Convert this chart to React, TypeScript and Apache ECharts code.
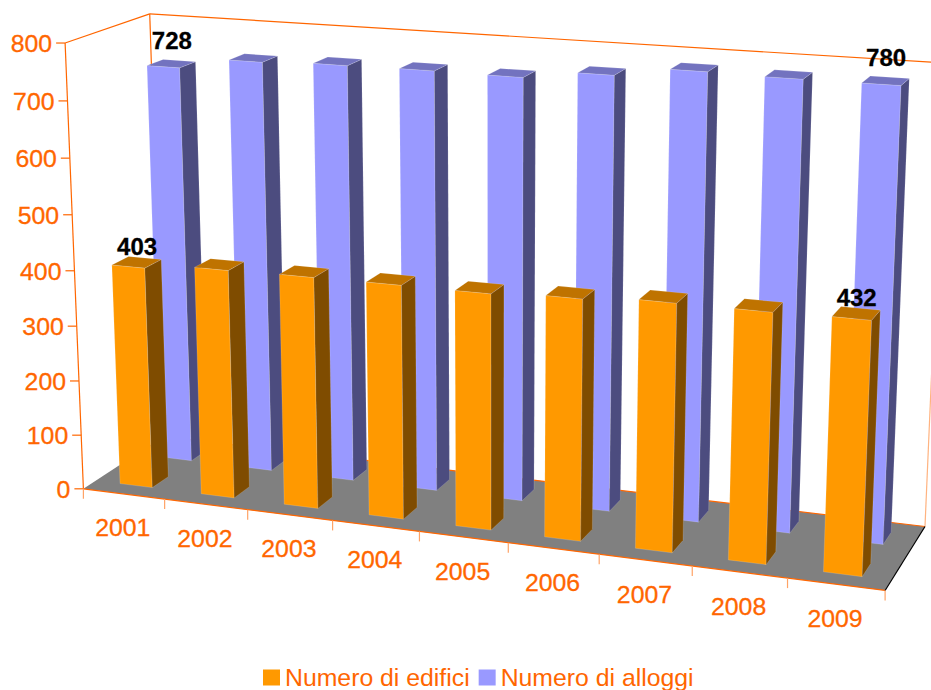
import React, { useEffect, useRef } from "react";
import * as echarts from "echarts";

const categories = ["2001", "2002", "2003", "2004", "2005", "2006", "2007", "2008", "2009"];
const edifici = [403, 413, 415, 416, 416, 422, 430, 430, 432];
const alloggi = [728, 748, 752, 753, 752, 766, 782, 780, 780];
const yTicks = [0, 100, 200, 300, 400, 500, 600, 700, 800];
const labelled = [0, 8];

const FONT = '"Liberation Sans", Arial, sans-serif';
const ORANGE = "#FF6600";
const GRID = { left: 0, top: 0, width: 900, height: 600 };

// camera calibration: box coordinates (u along years, v depth, w height) -> page pixels, then a weight
const CALIB: number[][] = [
  [0, 0, 0, 84, 489.5, 4],
  [0, 0, 1, 65, 43, 4],
  [0, 1, 1, 150, 14, 4],
  [0, 1, 0, 162.5, 434, 1],
  [1, 1, 0, 925, 527, 4],
  [1, 1, 1, 945, 63, 3],
  [1, 0, 0, 885, 590, 4],
  [1 / 9, 0, 0, 164, 499, 1],
  [8 / 9, 0, 0, 788, 578, 1],
  [0, 0, 0.5, 73, 270, 1],
];

function solveCamera(): number[] {
  const rows: number[][] = [];
  const rhs: number[] = [];
  CALIB.forEach(([u, v, w, x, y, k]) => {
    for (let t = 0; t < k; t++) {
      rows.push([u, v, w, 1, 0, 0, 0, 0, -x * u, -x * v, -x * w]);
      rhs.push(x);
      rows.push([0, 0, 0, 0, u, v, w, 1, -y * u, -y * v, -y * w]);
      rhs.push(y);
    }
  });
  const n = 11;
  const m: number[][] = [];
  for (let i = 0; i < n; i++) {
    m.push(new Array(n + 1).fill(0));
    for (let j = 0; j < n; j++) rows.forEach((r) => (m[i][j] += r[i] * r[j]));
    rows.forEach((r, k) => (m[i][n] += r[i] * rhs[k]));
  }
  for (let c = 0; c < n; c++) {
    let p = c;
    for (let r = c + 1; r < n; r++) if (Math.abs(m[r][c]) > Math.abs(m[p][c])) p = r;
    [m[c], m[p]] = [m[p], m[c]];
    for (let r = 0; r < n; r++) {
      if (r === c) continue;
      const f = m[r][c] / m[c][c];
      for (let k = c; k <= n; k++) m[r][k] -= f * m[c][k];
    }
  }
  return m.map((row, i) => row[n] / row[i]);
}
const cam = solveCamera();
function proj(u: number, v: number, w: number): number[] {
  const d = cam[8] * u + cam[9] * v + cam[10] * w + 1;
  return [
    (cam[0] * u + cam[1] * v + cam[2] * w + cam[3]) / d,
    (cam[4] * u + cam[5] * v + cam[6] * w + cam[7]) / d,
  ];
}

// library scale -> box coordinates
function toBox(api: any, i: number, val: number) {
  const c = api.coord([i, val]);
  const band = api.size([1, 0])[0];
  return {
    u: (c[0] - GRID.left) / GRID.width,
    halfBand: (band / GRID.width) / 2,
    w: (GRID.top + GRID.height - c[1]) / GRID.height,
  };
}

function line(a: number[], b: number[], stroke: string, lineWidth = 1.2, opacity = 1) {
  return {
    type: "line",
    shape: { x1: a[0], y1: a[1], x2: b[0], y2: b[1] },
    style: { stroke, lineWidth, opacity },
  };
}

function label(text: string, x: number, y: number, align: string, fill = ORANGE, weight = "normal", size = 24.8) {
  return {
    type: "text",
    style: {
      text,
      x,
      y,
      align,
      verticalAlign: "middle",
      fill,
      stroke: fill,
      lineWidth: 0.3,
      font: `${weight} ${size}px ${FONT}`,
    },
  };
}

function barRenderer(v0: number, v1: number, front: string, side: string, top: string, labelLift: number) {
  return (params: any, api: any) => {
    const i = api.value(0);
    const val = api.value(1);
    const { u, halfBand, w } = toBox(api, i, val);
    const u0 = u - halfBand * 0.4;
    const u1 = u + halfBand * 0.4;
    const edge = "rgba(255,255,255,0.3)";
    const poly = (pts: number[][], fill: string) => ({
      type: "polygon",
      shape: { points: pts },
      style: { fill, stroke: edge, lineWidth: 0.5 },
    });
    const children: any[] = [
      poly([proj(u0, v0, 0), proj(u1, v0, 0), proj(u1, v0, w), proj(u0, v0, w)], front),
      poly([proj(u1, v0, 0), proj(u1, v1, 0), proj(u1, v1, w), proj(u1, v0, w)], side),
      poly([proj(u0, v0, w), proj(u1, v0, w), proj(u1, v1, w), proj(u0, v1, w)], top),
    ];
    if (labelled.includes(i)) {
      const p = proj(u, (v0 + v1) / 2, w);
      children.push(label(String(val), p[0] + 0.5, p[1] - labelLift, "center", "#000", "bold", 24));
    }
    return { type: "group", children };
  };
}

function renderFrame(params: any, api: any) {
  const children: any[] = [];
  const FL = proj(0, 0, 0), BL = proj(0, 1, 0), BR = proj(1, 1, 0), FR = proj(1, 0, 0);
  children.push({ type: "polygon", shape: { points: [FL, BL, BR, FR] }, style: { fill: "#808080" } });
  children.push(line(BL, BR, ORANGE));
  children.push(line(BR, proj(1, 1, 1), "#FFB380"));
  children.push(line(BL, proj(0, 1, 1), ORANGE));
  children.push(line(proj(0, 1, 1), proj(1, 1, 1), ORANGE));
  children.push(line(proj(0, 0, 1), proj(0, 1, 1), ORANGE));
  children.push(line(FL, proj(0, 0, 1), ORANGE));
  children.push(line(FL, FR, ORANGE));
  children.push(line(FR, BR, "#000"));
  yTicks.forEach((t) => {
    const w = toBox(api, 0, t).w;
    const p = proj(0, 0, w);
    children.push(line([p[0] - 9, p[1]], p, ORANGE));
    children.push(label(String(t), p[0] - 13, p[1] + 0.5, "right"));
  });
  categories.forEach((c, i) => {
    const b = toBox(api, i, 0);
    const a = proj(b.u - b.halfBand, 0, 0);
    children.push(line(a, [a[0], a[1] + 10], "#FFA366"));
    const m = proj(b.u, 0, 0);
    children.push(label(c, m[0] - 1, m[1] + 34, "center"));
  });
  const end = proj(1, 0, 0);
  children.push(line(end, [end[0], end[1] + 10], "#FFA366"));
  return { type: "group", children };
}

export default function App() {
  const ref = useRef<HTMLDivElement>(null);
  useEffect(() => {
    const chart = echarts.init(ref.current!, undefined, { renderer: "svg" });
    chart.setOption({
      animation: false,
      backgroundColor: "#fff",
      grid: GRID,
      xAxis: { type: "category", data: categories, show: false },
      yAxis: { type: "value", min: 0, max: 800, interval: 100, show: false },
      legend: {
        data: ["Numero di edifici", "Numero di alloggi"],
        left: 258,
        top: 660,
        icon: "rect",
        itemWidth: 17,
        itemHeight: 16,
        itemGap: 9,
        textStyle: { color: ORANGE, fontSize: 24.8, lineHeight: 20, fontFamily: FONT, padding: [0, 0, 4, 0] },
      },
      series: [
        {
          type: "custom",
          name: "frame",
          data: [[0, 0]],
          encode: { x: 0, y: 1 },
          clip: false,
          silent: true,
          renderItem: renderFrame,
          z: 1,
        },
        {
          type: "custom",
          name: "Numero di alloggi",
          data: alloggi.map((v, i) => [i, v]),
          encode: { x: 0, y: 1 },
          clip: false,
          itemStyle: { color: "#9999FF" },
          renderItem: barRenderer(0.65, 0.85, "#9999FF", "#4C4C7F", "#7373BF", 23),
          z: 2,
        },
        {
          type: "custom",
          name: "Numero di edifici",
          data: edifici.map((v, i) => [i, v]),
          encode: { x: 0, y: 1 },
          clip: false,
          itemStyle: { color: "#FF9900" },
          renderItem: barRenderer(0.15, 0.35, "#FF9900", "#7F4C00", "#BF7300", 15.5),
          z: 3,
        },
      ],
    });
    return () => chart.dispose();
  }, []);
  return <div ref={ref} style={{ position: "absolute", left: 0, top: 0, width: 931, height: 690, overflow: "hidden" }} />;
}
